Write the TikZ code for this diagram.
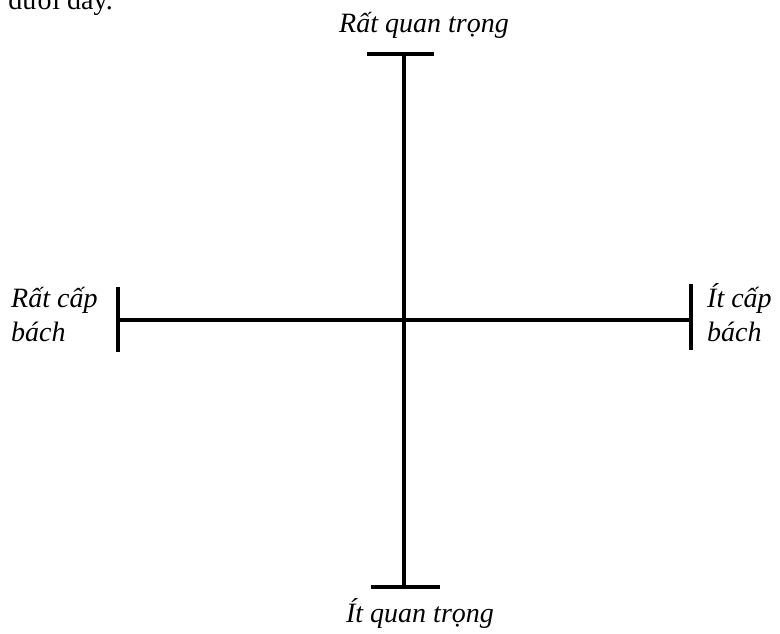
\documentclass[tikz,border=0pt]{standalone}
\usepackage{fontspec}
\setmainfont{Liberation Serif}
\usetikzlibrary{positioning}
\tikzset{
  axis/.style={line width=3.2pt, draw=black},
  endbar/.style={line width=3.4pt, draw=black},
  lab/.style={font=\fontsize{28}{32}\selectfont\itshape, inner sep=0pt},
  body/.style={font=\fontsize{28}{32}\selectfont, inner sep=0pt},
}
\begin{document}
\begin{tikzpicture}[x=1pt,y=1pt]
    \useasboundingbox (0,0) rectangle (780,633);
    % axes
    \coordinate (top) at (404,579);
    \coordinate (bottom) at (404,46);
    \coordinate (left) at (118,313);
    \coordinate (right) at (691,313);
    \coordinate (topL) at (367,579);   \coordinate (topR) at (434,579);
    \coordinate (botL) at (371,46);    \coordinate (botR) at (440,46);
    \coordinate (leftU) at (118,346);  \coordinate (leftD) at (118,281);
    \coordinate (rightU) at (691,349); \coordinate (rightD) at (691,283);
    \draw[axis] (top) -- (bottom);
    \draw[axis] (left) -- (right);
    \draw[endbar] (topL) -- (topR);
    \draw[endbar] (botL) -- (botR);
    \draw[endbar] (leftU) -- (leftD);
    \draw[endbar] (rightU) -- (rightD);
    % labels
    \node[body, anchor=base east] (intro) at (113,623) {dưới đây.};
    \node[lab, anchor=base] (important) at (424,600) {Rất quan trọng};
    \node[lab, anchor=base] (unimportant) at (420,11) {Ít quan trọng};
    \node[lab, anchor=base west] (urgent) at (11,325) {Rất cấp};
    \node[lab, anchor=base west] (urgent2) at (11,291) {bách};
    \node[lab, anchor=base west] (noturgent) at (707,325) {Ít cấp};
    \node[lab, anchor=base west] (noturgent2) at (707,291) {bách};
\end{tikzpicture}
\end{document}
